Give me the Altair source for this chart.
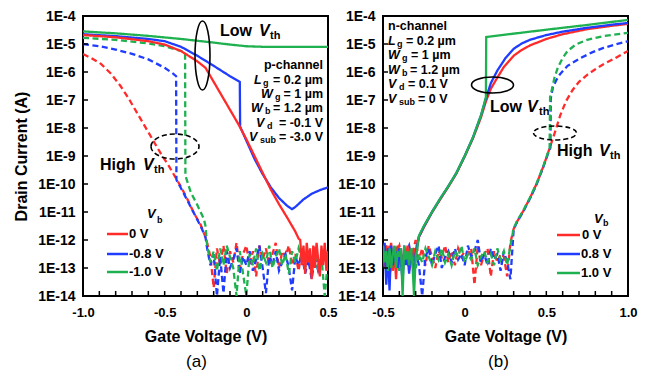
import altair as alt
import pandas as pd

FONT = "Liberation Sans"
RED, BLUE, GREEN = "#ff2b2b", "#1f3cff", "#1fb04f"

# ---------------- data: gate voltage (V) and log10(drain current / A) ----------------
# (a) p-channel: solid = low-Vth branch, dashed = high-Vth branch
A_RED_LOW_V = [-1.0, -0.8, -0.6, -0.5, -0.4, -0.3, -0.25, -0.2, -0.15, -0.1, -0.05, 0.0, 0.05, 0.1, 0.15, 0.2, 0.25, 0.3, 0.32]
A_RED_LOW_I = [-4.68, -4.76, -4.90, -5.02, -5.25, -5.62, -5.85, -6.35, -6.85, -7.35, -7.85, -8.40, -9.0, -9.6, -10.2, -10.72, -11.2, -11.7, -11.95]
A_RED_LOW_NOISE_V = [0.33, 0.34, 0.35, 0.36, 0.37, 0.38, 0.39, 0.40, 0.41, 0.42, 0.43, 0.44, 0.45, 0.46, 0.47, 0.48, 0.49, 0.50]
A_RED_LOW_NOISE_I = [-12.0, -12.9, -12.2, -13.2, -12.1, -12.8, -12.3, -13.4, -12.2, -13.0, -12.1, -12.7, -13.3, -12.2, -12.9, -12.1, -13.1, -12.4]

A_BLUE_LOW_V = [-1.0, -0.8, -0.6, -0.5, -0.4, -0.3, -0.2, -0.1, -0.04, -0.038, 0.0, 0.05, 0.1, 0.15, 0.2, 0.25, 0.28, 0.3, 0.35, 0.4, 0.45, 0.5]
A_BLUE_LOW_I = [-4.65, -4.72, -4.82, -4.90, -5.10, -5.42, -5.78, -6.15, -6.35, -7.95, -8.45, -9.1, -9.65, -10.12, -10.5, -10.78, -10.9, -10.82, -10.55, -10.35, -10.22, -10.12]

A_GREEN_LOW_V = [-1.0, -0.8, -0.6, -0.4, -0.2, -0.1, 0.0, 0.1, 0.5]
A_GREEN_LOW_I = [-4.55, -4.62, -4.71, -4.82, -4.95, -5.02, -5.08, -5.10, -5.10]

A_RED_HIGH_V = [-1.0, -0.95, -0.89, -0.83, -0.77, -0.72, -0.67, -0.62, -0.57, -0.52, -0.48, -0.44, -0.40, -0.36, -0.32, -0.28, -0.25]
A_RED_HIGH_I = [-5.36, -5.50, -5.71, -6.05, -6.50, -6.95, -7.45, -7.95, -8.45, -8.95, -9.30, -9.70, -10.10, -10.55, -11.05, -11.45, -11.90]

A_BLUE_HIGH_V = [-1.0, -0.9, -0.8, -0.7, -0.6, -0.5, -0.45, -0.43, -0.428, -0.40, -0.36, -0.32, -0.28, -0.25]
A_BLUE_HIGH_I = [-5.00, -5.08, -5.20, -5.35, -5.55, -5.85, -6.05, -6.15, -9.85, -10.15, -10.6, -11.05, -11.5, -11.9]

A_GREEN_HIGH_V = [-1.0, -0.8, -0.6, -0.5, -0.4, -0.375, -0.373, -0.34, -0.30, -0.26, -0.25]
A_GREEN_HIGH_I = [-4.78, -4.85, -4.98, -5.08, -5.25, -5.32, -9.7, -10.3, -10.75, -11.25, -11.5]

A_NOISE_V = [-0.24, -0.22, -0.20, -0.18, -0.16, -0.14, -0.12, -0.10, -0.08, -0.06,
             -0.04, -0.02, 0.00, 0.02, 0.04, 0.06, 0.08, 0.10, 0.12, 0.14,
             0.16, 0.18, 0.20, 0.22, 0.24, 0.26, 0.28, 0.30, 0.32, 0.34,
             0.36, 0.38, 0.40, 0.42, 0.44, 0.46, 0.48, 0.50]
A_NOISE_RED = [-12.1, -12.6, -13.7, -12.3, -12.9, -12.2, -13.2, -12.4, -12.8, -12.1,
               -13.0, -12.5, -12.2, -12.9, -12.4, -13.3, -12.2, -12.7, -12.3, -12.9,
               -12.5, -12.1, -13.0, -12.4, -12.6, -12.2, -12.9, -12.5, -13.1, -12.3,
               -12.8, -12.4, -13.3, -12.2, -12.9, -12.5, -12.3, -12.8]
A_NOISE_BLUE = [-12.3, -12.9, -12.5, -14.0, -12.6, -13.9, -12.4, -13.0, -12.7, -12.3,
                -13.2, -12.6, -12.9, -12.4, -13.1, -12.7, -12.2, -13.0, -13.9, -12.6,
                -12.9, -12.4, -13.1, -12.8, -12.5, -13.0, -13.8, -12.6, -12.9, -12.5,
                -13.2, -12.7, -13.4, -12.6, -13.1, -12.8, -12.5, -13.0]
A_NOISE_GREEN = [-12.2, -12.8, -12.4, -13.1, -12.3, -12.9, -12.2, -12.6, -13.0, -14.0,
                 -12.4, -13.2, -14.0, -12.5, -12.9, -12.3, -13.1, -12.5, -12.8, -12.2,
                 -13.0, -12.6, -12.3, -12.9, -12.5, -13.2, -12.4, -12.8, -12.3, -12.7,
                 -13.0, -12.5, -12.9, -12.4, -13.1, -12.6, -14.0, -12.7]

# (b) n-channel
B_LOW_NOISE_V = [-0.50, -0.49, -0.48, -0.47, -0.46, -0.45, -0.44, -0.43, -0.42, -0.41, -0.40,
                 -0.39, -0.38, -0.37, -0.36, -0.35, -0.34, -0.33, -0.32, -0.31, -0.30, -0.29]
B_LOW_NOISE_RED = [-12.3, -13.0, -12.2, -13.3, -12.5, -12.1, -13.1, -12.4, -13.4, -12.2, -12.9,
                   -12.3, -13.2, -12.5, -12.8, -12.2, -13.0, -12.4, -12.7, -12.3, -12.6, -12.1]
B_LOW_NOISE_BLUE = [-12.5, -12.1, -13.6, -12.3, -13.8, -12.2, -12.9, -12.6, -12.4, -13.0, -12.3,
                    -12.8, -13.5, -12.2, -12.9, -12.5, -13.2, -12.4, -12.8, -13.3, -12.5, -12.2]
B_LOW_NOISE_GREEN = [-12.2, -12.8, -12.4, -13.1, -12.3, -13.0, -12.5, -12.2, -13.0, -12.4, -12.6,
                     -12.3, -14.0, -12.2, -12.7, -12.4, -12.9, -12.3, -12.8, -14.0, -12.6, -12.3]

B_RED_LOW_V = [-0.28, -0.25, -0.2, -0.15, -0.1, -0.05, 0.0, 0.05, 0.1, 0.13, 0.16, 0.2, 0.24, 0.3, 0.34, 0.4, 0.5, 0.6, 0.75, 0.9, 1.0]
B_RED_LOW_I = [-11.9, -11.55, -11.02, -10.55, -10.1, -9.62, -9.02, -8.38, -7.62, -7.05, -6.6, -6.2, -5.82, -5.42, -5.25, -5.05, -4.82, -4.65, -4.47, -4.35, -4.28]
B_BLUE_LOW_V = [-0.28, -0.25, -0.2, -0.15, -0.1, -0.05, 0.0, 0.05, 0.1, 0.13, 0.16, 0.2, 0.25, 0.3, 0.35, 0.4, 0.5, 0.6, 0.75, 0.9, 1.0]
B_BLUE_LOW_I = [-11.88, -11.52, -11.0, -10.53, -10.08, -9.6, -9.0, -8.35, -7.55, -6.95, -6.4, -5.95, -5.5, -5.17, -4.98, -4.85, -4.68, -4.56, -4.42, -4.31, -4.25]
B_GREEN_LOW_V = [-0.28, -0.25, -0.2, -0.15, -0.1, -0.05, 0.0, 0.05, 0.1, 0.13, 0.132, 0.3, 0.5, 0.75, 1.0]
B_GREEN_LOW_I = [-11.85, -11.5, -11.0, -10.52, -10.08, -9.6, -9.0, -8.35, -7.55, -6.9, -4.75, -4.63, -4.49, -4.32, -4.14]

B_NOISE_V = [-0.50, -0.48, -0.46, -0.44, -0.42, -0.40, -0.38, -0.36, -0.34, -0.32,
             -0.30, -0.28, -0.26, -0.24, -0.22, -0.20, -0.18, -0.16, -0.14, -0.12,
             -0.10, -0.08, -0.06, -0.04, -0.02, 0.00, 0.02, 0.04, 0.06, 0.08,
             0.10, 0.12, 0.14, 0.16, 0.18, 0.20, 0.22, 0.24, 0.26, 0.28]
B_NOISE_RED = [-12.4, -12.9, -12.2, -13.0, -12.5, -12.2, -12.8, -12.3, -13.1, -12.5,
               -12.0, -12.7, -12.3, -12.9, -12.2, -12.6, -13.0, -12.4, -12.6, -12.2,
               -12.8, -12.4, -12.9, -12.3, -12.6, -12.4, -12.5, -12.3, -13.6, -12.2,
               -12.9, -12.5, -12.3, -13.3, -12.4, -12.8, -12.5, -12.6, -13.3, -12.1]
B_NOISE_BLUE = [-12.6, -12.2, -13.3, -12.4, -12.9, -12.3, -13.0, -12.5, -12.2, -12.8,
                -12.4, -12.9, -14.0, -12.6, -12.3, -12.9, -12.5, -12.2, -13.0, -12.6,
                -12.4, -12.8, -12.3, -12.7, -12.5, -12.9, -12.2, -12.6, -12.4, -12.0,
                -12.8, -12.5, -12.9, -12.3, -12.7, -12.5, -13.1, -12.4, -12.8, -13.4]
B_NOISE_GREEN = [-12.5, -13.0, -12.3, -12.8, -12.2, -13.1, -12.6, -12.4, -12.9, -12.3,
                 -13.0, -12.5, -12.8, -12.3, -12.6, -12.9, -12.4, -12.7, -12.3, -12.8,
                 -12.5, -12.9, -12.4, -12.6, -12.2, -12.8, -12.5, -12.7, -12.3, -12.9,
                 -12.6, -12.4, -12.8, -12.5, -12.9, -12.3, -12.7, -12.4, -12.9, -12.2]

B_RED_HIGH_V = [0.30, 0.32, 0.36, 0.40, 0.44, 0.48, 0.51, 0.53, 0.55, 0.585, 0.62, 0.66, 0.70, 0.75, 0.80, 0.85, 0.91, 1.0]
B_RED_HIGH_I = [-11.6, -11.35, -10.95, -10.5, -10.0, -9.4, -8.9, -8.55, -8.2, -7.55, -7.05, -6.65, -6.35, -6.1, -5.9, -5.72, -5.54, -5.25]
B_BLUE_HIGH_V = [0.30, 0.32, 0.36, 0.40, 0.44, 0.48, 0.51, 0.525, 0.527, 0.54, 0.56, 0.585, 0.63, 0.71, 0.78, 0.85, 0.92, 1.0]
B_BLUE_HIGH_I = [-11.62, -11.37, -10.97, -10.52, -10.02, -9.42, -8.92, -8.7, -6.95, -6.55, -6.3, -6.07, -5.78, -5.5, -5.3, -5.14, -5.02, -4.9]
B_GREEN_HIGH_V = [0.30, 0.32, 0.36, 0.40, 0.44, 0.48, 0.51, 0.52, 0.523, 0.535, 0.55, 0.57, 0.60, 0.63, 0.68, 0.75, 0.85, 1.0]
B_GREEN_HIGH_I = [-11.58, -11.33, -10.93, -10.48, -9.98, -9.38, -8.88, -8.75, -6.9, -6.6, -6.2, -5.85, -5.5, -5.25, -5.02, -4.85, -4.72, -4.6]

# axis values
Y_DECADES = [-14, -13, -12, -11, -10, -9, -8, -7, -6, -5, -4]
A_XLABELS = [-1.0, -0.5, 0.0, 0.5]
B_XLABELS = [-0.5, 0.0, 0.5, 1.0]
A_XMINOR = [-0.9, -0.8, -0.7, -0.6, -0.5, -0.4, -0.3, -0.2, -0.1, 0.0, 0.1, 0.2, 0.3, 0.4]
B_XMINOR = [-0.4, -0.3, -0.2, -0.1, 0.0, 0.1, 0.2, 0.3, 0.4, 0.5, 0.6, 0.7, 0.8, 0.9]
Y_MINOR = [-13, -12, -11, -10, -9, -8, -7, -6, -5]

PW, PH = 245, 280
ONE = pd.DataFrame({"k": [0]})
XLAB = "datum.value == 0 ? '0' : (datum.value < 0 ? '-' : '') + format(abs(datum.value), '.1f')"


def series(panel, rank, kind, parts):
    vs, ls = [], []
    for v, l in parts:
        vs += list(v)
        ls += list(l)
    return pd.DataFrame({"V": vs, "logI": ls, "idx": list(range(len(vs))),
                         "rank": rank, "kind": kind, "key": f"{panel}-{rank}-{kind}"})


df_a = pd.concat([
    series("a", "r", "dashed", [(A_RED_HIGH_V, A_RED_HIGH_I), (A_NOISE_V, A_NOISE_RED)]),
    series("a", "b", "dashed", [(A_BLUE_HIGH_V, A_BLUE_HIGH_I), (A_NOISE_V, A_NOISE_BLUE)]),
    series("a", "g", "dashed", [(A_GREEN_HIGH_V, A_GREEN_HIGH_I), (A_NOISE_V, A_NOISE_GREEN)]),
    series("a", "b", "solid", [(A_BLUE_LOW_V, A_BLUE_LOW_I)]),
    series("a", "r", "solid", [(A_RED_LOW_V, A_RED_LOW_I), (A_RED_LOW_NOISE_V, A_RED_LOW_NOISE_I)]),
    series("a", "g", "solid", [(A_GREEN_LOW_V, A_GREEN_LOW_I)]),
], ignore_index=True)

df_b = pd.concat([
    series("b", "r", "dashed", [(B_NOISE_V, B_NOISE_RED), (B_RED_HIGH_V, B_RED_HIGH_I)]),
    series("b", "b", "dashed", [(B_NOISE_V, B_NOISE_BLUE), (B_BLUE_HIGH_V, B_BLUE_HIGH_I)]),
    series("b", "g", "dashed", [(B_NOISE_V, B_NOISE_GREEN), (B_GREEN_HIGH_V, B_GREEN_HIGH_I)]),
    series("b", "r", "solid", [(B_LOW_NOISE_V, B_LOW_NOISE_RED), (B_RED_LOW_V, B_RED_LOW_I)]),
    series("b", "b", "solid", [(B_LOW_NOISE_V, B_LOW_NOISE_BLUE), (B_BLUE_LOW_V, B_BLUE_LOW_I)]),
    series("b", "g", "solid", [(B_LOW_NOISE_V, B_LOW_NOISE_GREEN), (B_GREEN_LOW_V, B_GREEN_LOW_I)]),
], ignore_index=True)


def lines(df, xdom, xvals, ytitle):
    yaxis = dict(values=Y_DECADES, labelExpr="'1E' + datum.value", labelPadding=8, labelFontSize=14,
                 titlePadding=8, title=ytitle, labelOverlap=False, labelFlush=False)
    return alt.Chart(df).mark_line(strokeWidth=2.3, clip=True).encode(
        x=alt.X("V:Q", scale=alt.Scale(domain=xdom, nice=False, zero=False),
                axis=alt.Axis(values=xvals, labelExpr=XLAB, title="Gate Voltage (V)",
                              labelPadding=10, titlePadding=9, labelOverlap=False, labelFlush=False)),
        y=alt.Y("logI:Q", scale=alt.Scale(domain=[-14, -4], nice=False, zero=False),
                axis=alt.Axis(**yaxis)),
        color=alt.Color("rank:N", scale=alt.Scale(domain=["r", "b", "g"], range=[RED, BLUE, GREEN]), legend=None),
        strokeDash=alt.StrokeDash("kind:N", scale=alt.Scale(domain=["solid", "dashed"], range=[[1, 0], [6, 3.5]]), legend=None),
        detail="key:N",
        order="idx:Q",
    )


def ticks(xminor):
    xt = alt.Chart(pd.DataFrame({"V": xminor})).mark_rule(color="black", strokeWidth=1.5).encode(
        x="V:Q", y=alt.value(PH), y2=alt.value(PH - 5))
    yt = alt.Chart(pd.DataFrame({"logI": Y_MINOR})).mark_rule(color="black", strokeWidth=1.5).encode(
        y="logI:Q", x=alt.value(0), x2=alt.value(5))
    return [xt, yt]


def txt(text, x, y, ox, size=12.5, italic=False, align="left", weight="bold"):
    return alt.Chart(ONE).mark_text(
        text=text, font=FONT, fontSize=size, fontWeight=weight,
        fontStyle="italic" if italic else "normal", align=align, baseline="middle", color="black"
    ).encode(x=alt.value(x - ox), y=alt.value(y - 15))


def ellipse(cx, cy, w, h, ox, dashed):
    m = max(w, h)
    rx, ry = w / m, h / m
    path = (f"M {-rx:.3f} 0 A {rx:.3f} {ry:.3f} 0 1 0 {rx:.3f} 0 "
            f"A {rx:.3f} {ry:.3f} 0 1 0 {-rx:.3f} 0 Z")
    mk = dict(shape=path, size=m * m, filled=False, color="black", strokeWidth=1.6, opacity=1)
    if dashed:
        mk["strokeDash"] = [5, 3]
    return alt.Chart(ONE).mark_point(**mk).encode(x=alt.value(cx - ox), y=alt.value(cy - 15))


def lrule(x1, x2, y, ox, color):
    return alt.Chart(ONE).mark_rule(color=color, strokeWidth=2.5).encode(
        x=alt.value(x1 - ox), x2=alt.value(x2 - ox), y=alt.value(y - 15))


def vth(word, x, xv, xs, y, ox):
    return [txt(word, x, y, ox, size=16), txt("V", xv, y, ox, size=16, italic=True),
            txt("th", xs, y + 5, ox, size=11)]


def param(letter, sub, rest, xl, xsub, y, ox, xrest, rest_align="left"):
    return [txt(letter, xl, y, ox, italic=True), txt(sub, xsub, y + 3, ox, size=9),
            txt(rest, xrest, y, ox, align=rest_align)]


# ---------------- panel (a) ----------------
OA = 83
ann_a = []
ann_a += vth("Low", 220, 259, 270, 30, OA)
ann_a += vth("High", 100, 143, 154, 164, OA)
ann_a += [txt("p-channel", 323, 64, OA, align="right")]
ann_a += param("L", "g", "= 0.2 µm", 254, 263, 79, OA, 323, "right")
ann_a += param("W", "g", "= 1 µm", 261, 275, 93, OA, 323, "right")
ann_a += param("W", "b", "= 1.2 µm", 251, 265, 107, OA, 323, "right")
ann_a += param("V", "d", "= -0.1 V", 256, 267, 122, OA, 323, "right")
ann_a += param("V", "sub", "= -3.0 V", 249, 260, 136, OA, 323, "right")
ann_a += [ellipse(202.5, 54.5, 15, 69, OA, False), ellipse(175, 145.5, 48, 25, OA, True)]
ann_a += [txt("V", 147, 213, OA, size=13, italic=True), txt("b", 157, 219, OA, size=9),
          lrule(107, 128, 233, OA, RED), lrule(107, 128, 253, OA, BLUE), lrule(107, 128, 271, OA, GREEN),
          txt(" 0 V", 129, 233, OA, size=13), txt("-0.8 V", 129, 253, OA, size=13),
          txt("-1.0 V", 129, 271, OA, size=13)]

pa = alt.layer(lines(df_a, [-1.0, 0.5], A_XLABELS, "Drain Current (A)"), *ticks(A_XMINOR), *ann_a).properties(
    width=PW, height=PH,
    title=alt.TitleParams("(a)", orient="bottom", font=FONT, fontSize=17, fontWeight="normal",
                          color="black", offset=10, dx=-9))

# ---------------- panel (b) ----------------
OB = 383
ann_b = [txt("n-channel", 388, 25, OB)]
ann_b += param("L", "g", "= 0.2 µm", 388, 397, 40, OB, 406)
ann_b += param("W", "g", "= 1 µm", 388, 402, 54, OB, 411)
ann_b += param("W", "b", "= 1.2 µm", 388, 402, 69, OB, 410)
ann_b += param("V", "d", "= 0.1 V", 388, 399, 83, OB, 408)
ann_b += param("V", "sub", "= 0 V", 388, 399, 98, OB, 418)
ann_b += vth("Low", 490, 527, 539, 106, OB)
ann_b += vth("High", 557, 599, 610, 150, OB)
ann_b += [ellipse(492.5, 84, 42, 16, OB, False), ellipse(555, 132, 43, 14, OB, True)]
ann_b += [txt("V", 594, 218, OB, size=13, italic=True), txt("b", 603, 222, OB, size=9),
          lrule(557, 580, 234, OB, RED), lrule(557, 580, 253, OB, BLUE), lrule(557, 580, 272, OB, GREEN),
          txt("0 V", 582, 234, OB, size=13), txt("0.8 V", 581, 253, OB, size=13),
          txt("1.0 V", 581, 272, OB, size=13)]

pb = alt.layer(lines(df_b, [-0.5, 1.0], B_XLABELS, None), *ticks(B_XMINOR), *ann_b).properties(
    width=PW, height=PH,
    title=alt.TitleParams("(b)", orient="bottom", font=FONT, fontSize=17, fontWeight="normal",
                          color="black", offset=10, dx=-7))

chart = alt.hconcat(pa, pb, spacing=55).properties(
    bounds="flush",
    padding={"left": 12, "top": 8, "right": 5, "bottom": 5},
).configure_view(stroke="black", strokeWidth=2).configure_axis(
    grid=False, ticks=False, tickSize=0, domain=False, labelOverlap=False, labelFlush=False,
    labelFont=FONT, labelFontSize=13, labelFontWeight="bold", labelColor="black",
    titleFont=FONT, titleFontSize=16, titleFontWeight="bold", titleColor="black",
).configure_axisY(labelOverlap=False, tickCount=11)

chart.save("out.html", embed_options={"renderer": "svg", "actions": False})
